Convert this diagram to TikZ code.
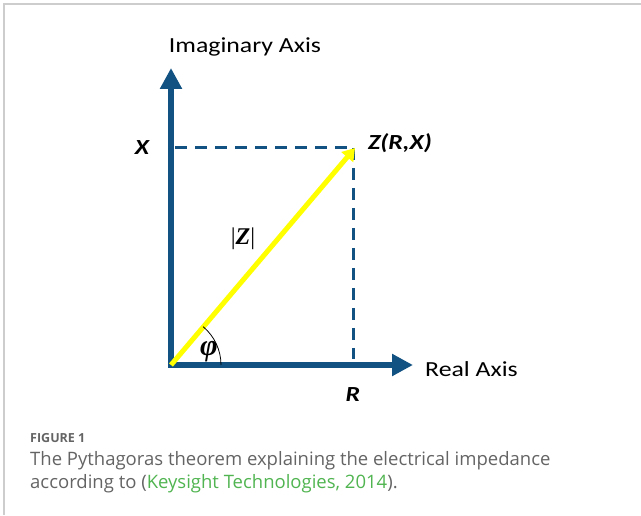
\documentclass[tikz,border=0pt]{standalone}
\usepackage{fontspec}
\usepackage{amsmath}
\setmainfont{Carlito}
\newfontfamily\axisfont[FakeStretch=1.2]{Carlito}
\newfontfamily\captionfont{Open Sans}
\newfontfamily\symbfont{Liberation Serif}
\usetikzlibrary{arrows.meta,positioning}
\definecolor{axisblue}{RGB}{18,82,130}
\definecolor{vecyellow}{RGB}{255,255,0}
\definecolor{captiongray}{RGB}{100,100,100}
\definecolor{citegreen}{RGB}{80,180,80}
\definecolor{framegray}{RGB}{205,205,205}

\begin{document}
\begin{tikzpicture}[x=1pt,y=1pt,
  axis/.style={line width=6pt, axisblue, line join=miter},
  guide/.style={line width=3pt, axisblue, dash pattern=on 12pt off 8pt},
  vector/.style={line width=5pt, vecyellow, -{Triangle[width=15pt,length=12pt]}},
  axislabel/.style={font=\axisfont\fontsize{21.5}{24}\selectfont, anchor=base, inner sep=0pt},
  pointlabel/.style={font=\axisfont\fontsize{21.5}{24}\selectfont\bfseries\itshape, anchor=base, inner sep=0pt},
  symblabel/.style={font=\symbfont\fontsize{24}{28}\selectfont, anchor=base, inner sep=0pt},
  captiontext/.style={font=\captionfont\fontsize{18.5}{22}\selectfont, captiongray, anchor=base west, inner sep=0pt}]
% Frame
\useasboundingbox (0,0) rectangle (641,515);
\draw[framegray, line width=1.5pt] (4,0) -- (4,511) -- (641,511);

% Points
\coordinate (origin) at (171,150);
\coordinate (imagtip) at (171,447);
\coordinate (realtip) at (413,150);
\coordinate (zpt) at (355,367);
\coordinate (xpt) at (175,367);
\coordinate (rpt) at (353,156);

% Dashed guides
\draw[guide] (xpt) -- (zpt -| rpt);
\draw[guide] (zpt -| rpt) -- (rpt);

% Axes
\draw[axis, {Triangle[width=21pt,length=21pt]}-{Triangle[width=21pt,length=21pt]}] (imagtip) -- (origin) -- (realtip);

% Vector and angle
\draw[vector] (origin) -- (zpt);
\draw[line width=0.8pt] ([xshift=50pt]origin) arc[start angle=0, end angle=50, radius=50pt];

% Labels
\node[axislabel] (imaglabel) at (245,462) {Imaginary Axis};
\node[axislabel, anchor=base west] (reallabel) at (425,138) {Real Axis};
\node[pointlabel] (xlabel) at (142,360) {X};
\node[pointlabel] (zlabel) at (400,365) {Z(R,X)};
\node[pointlabel] (rlabel) at (353,113) {R};
\node[symblabel] (maglabel) at (243,270) {|{\bfseries\itshape Z}|};
\node[symblabel, font=\symbfont\fontsize{30}{34}\selectfont\bfseries\itshape] (philabel) at (209,159) {φ};

% Caption
\node[font=\captionfont\bfseries\fontsize{12.5}{15}\selectfont, captiongray, anchor=base west, inner sep=0pt] (figlabel) at (30,72) {FIGURE 1};
\node[captiontext] (capline1) at (30,49) {The Pythagoras theorem explaining the electrical impedance};
\node[captiontext] (capline2) at (30,27) {according to (\textcolor{citegreen}{Keysight Technologies, 2014}).};
\end{tikzpicture}
\end{document}
